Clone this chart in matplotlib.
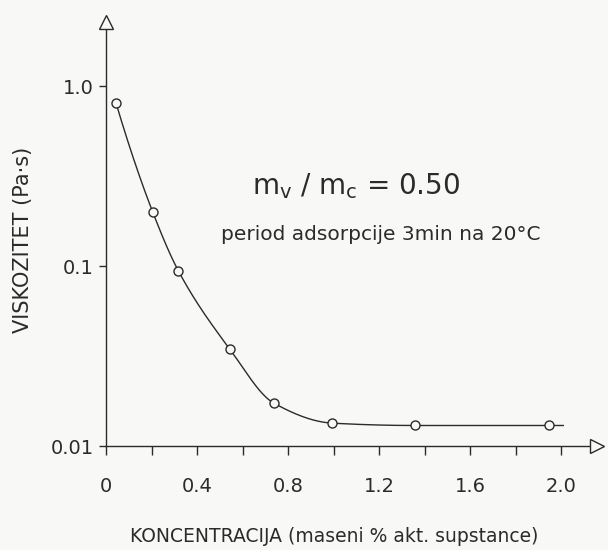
import numpy as np
import matplotlib
matplotlib.use("Agg")
import matplotlib.pyplot as plt

# ---- data ----
conc = [0.044, 0.205, 0.318, 0.545, 0.738, 0.994, 1.358, 1.947]
visc = [0.805, 0.200, 0.094, 0.0344, 0.0173, 0.0134, 0.0130, 0.0130]
curve_end_x = 2.01          # drawn curve continues a little past last point
curve_end_y = 0.0130

xticks_major = [0.0, 0.4, 0.8, 1.2, 1.6, 2.0]
xtick_labels = ["0", "0.4", "0.8", "1.2", "1.6", "2.0"]
xticks_minor = [0.2, 0.6, 1.0, 1.4, 1.8]
yticks = [0.01, 0.1, 1.0]
ytick_labels = ["0.01", "0.1", "1.0"]

xlabel = "KONCENTRACIJA (maseni % akt. supstance)"
ylabel = "VISKOZITET (Pa·s)"
ratio_text = r"m$_\mathregular{v}$ / m$_\mathregular{c}$ = 0.50"
cond_text = "period adsorpcije 3min na 20°C"

bg = "#f8f8f6"
ink = "#2b2b2b"

plt.rcParams['font.family'] = ['DejaVu Sans']

W, H = 608, 550
fig = plt.figure(figsize=(W / 100, H / 100), dpi=100, facecolor=bg)
ax = fig.add_axes([106 / W, (H - 446) / H, (597 - 106) / W, (446 - 22) / H])
ax.set_facecolor(bg)
ax.set_yscale("log")
ax.set_xlim(0, (597 - 106) / 227.5)
ax.set_ylim(0.01, 10 ** (-2 + (446 - 22) / 180))

for s in ("top", "right"):
    ax.spines[s].set_visible(False)
for s in ("left", "bottom"):
    ax.spines[s].set_color(ink)
    ax.spines[s].set_linewidth(1.0)


# ---- smooth (shape-preserving) curve through the points, in x / log y ----
def pchip_curve(x, y, n=40):
    x = np.asarray(x, float)
    y = np.asarray(y, float)
    h = np.diff(x)
    delta = np.diff(y) / h
    d = np.zeros_like(y)
    for k in range(1, len(x) - 1):
        if delta[k - 1] * delta[k] <= 0:
            d[k] = 0.0
        else:
            w1 = 2 * h[k] + h[k - 1]
            w2 = h[k] + 2 * h[k - 1]
            d[k] = (w1 + w2) / (w1 / delta[k - 1] + w2 / delta[k])

    def end(h0, h1, d0, d1):
        v = ((2 * h0 + h1) * d0 - h0 * d1) / (h0 + h1)
        if np.sign(v) != np.sign(d0):
            v = 0.0
        elif np.sign(d0) != np.sign(d1) and abs(v) > abs(3 * d0):
            v = 3 * d0
        return v

    d[0] = end(h[0], h[1], delta[0], delta[1])
    d[-1] = end(h[-1], h[-2], delta[-1], delta[-2])
    xs, ys = [], []
    for k in range(len(x) - 1):
        t = np.linspace(0, 1, n)
        h00 = 2 * t ** 3 - 3 * t ** 2 + 1
        h10 = t ** 3 - 2 * t ** 2 + t
        h01 = -2 * t ** 3 + 3 * t ** 2
        h11 = t ** 3 - t ** 2
        xs.append(x[k] + t * h[k])
        ys.append(h00 * y[k] + h10 * h[k] * d[k] + h01 * y[k + 1] + h11 * h[k] * d[k + 1])
    return np.concatenate(xs), np.concatenate(ys)


cx, cy = pchip_curve(list(conc) + [curve_end_x],
                     np.log10(list(visc) + [curve_end_y]))
ax.plot(cx, 10 ** cy, color=ink, lw=1.0, zorder=3)
ax.plot(conc, visc, linestyle="none", marker="o", ms=6.5, mfc=bg, mec=ink,
        mew=1.0, zorder=4)

# ---- ticks ----
ax.set_xticks(xticks_major)
ax.set_xticklabels(xtick_labels)
ax.set_xticks(xticks_minor, minor=True)
ax.set_yticks(yticks)
ax.set_yticklabels(ytick_labels)
ax.yaxis.set_minor_locator(matplotlib.ticker.NullLocator())
ax.tick_params(axis="x", which="both", direction="out", length=6.5, width=1.0,
               color=ink, labelcolor=ink, labelsize=14, pad=16)
ax.tick_params(axis="y", which="both", direction="out", length=5, width=1.0,
               color=ink, labelcolor=ink, labelsize=14, pad=4)

# ---- axis arrows (open triangles) ----
ax.plot([0], [1], marker="^", ms=10, mfc=bg, mec=ink, mew=1.0,
        transform=ax.transAxes, clip_on=False, zorder=6)
ax.plot([1], [0], marker=">", ms=10, mfc=bg, mec=ink, mew=1.0,
        transform=ax.transAxes, clip_on=False, zorder=6)

# ---- labels and annotations ----
fig.text(23 / W, 1 - 240 / H, ylabel, rotation=90, ha="center", va="center",
         fontsize=15, color=ink)
fig.text(334 / W, 1 - 537 / H, xlabel, ha="center", va="center",
         fontsize=13.5, color=ink)
fig.text(356 / W, 1 - 186 / H, ratio_text, ha="center", va="center",
         fontsize=20, color=ink)
fig.text(381 / W, 1 - 235 / H, cond_text, ha="center", va="center",
         fontsize=14.5, color=ink)

fig.savefig("out.png", dpi=100, facecolor=bg)
